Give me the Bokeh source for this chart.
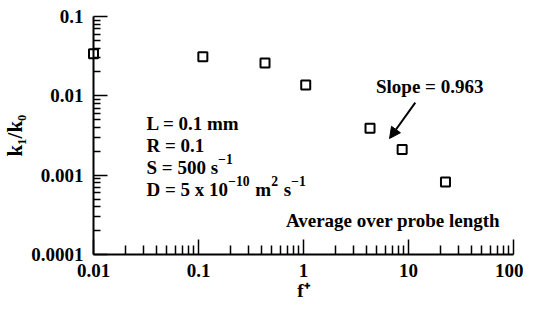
from bokeh.plotting import figure
from bokeh.models import FixedTicker, CustomJSTickFormatter, Arrow, NormalHead
from bokeh.core.properties import value
from bokeh.embed import file_html
from bokeh.resources import INLINE

# data
f_plus = [0.01, 0.11, 0.43, 1.05, 4.3, 8.7, 22.5]
k_ratio = [0.034, 0.031, 0.026, 0.0137, 0.0039, 0.0021, 0.00082]

x_ticks = [0.01, 0.1, 1, 10, 100]
x_tick_labels = ["0.01", "0.1", "1", "10", "100"]
y_ticks = [0.0001, 0.001, 0.01, 0.1]
y_tick_labels = ["0.0001", "0.001", "0.01", "0.1"]

# parameter lines: list of (text, is_superscript) pieces
param_lines = [
    [("L = 0.1 mm", False)],
    [("R = 0.1", False)],
    [("S = 500 s", False), ("\u22121", True)],
    [("D = 5 x 10", False), ("\u221210", True), (" m", False), ("2", True), (" s", False), ("\u22121", True)],
]
params_y = [0.0045, 0.0024, 0.00125, 0.00066]
params_x = 0.032

FONT = "Liberation Serif"
FSZ = 19
FS = "%dpx" % FSZ
SUP = 0.72

# Times-Bold (= Liberation Serif Bold) advance widths per 1000 em
W = {" ": 250, ".": 250, "=": 570, "x": 500, "m": 833, "s": 389, "S": 556, "D": 722,
     "L": 667, "R": 722, "\u2212": 570}
for d in "0123456789":
    W[d] = 500

def width(t, size):
    return sum(W.get(c, 500) for c in t) * size / 1000.0

def minors(lo_exp, hi_exp):
    out = []
    for e in range(lo_exp, hi_exp):
        for m in range(2, 10):
            out.append(m * 10.0 ** e)
    return out

p = figure(frame_width=420, frame_height=238, x_axis_type="log", y_axis_type="log",
           x_range=(0.01, 100), y_range=(0.0001, 0.1),
           output_backend="svg", toolbar_location=None,
           min_border_left=90, min_border_right=10, min_border_top=16, min_border_bottom=52)
p.outline_line_color = None
p.xgrid.visible = False
p.ygrid.visible = False
p.background_fill_color = "white"
p.border_fill_color = "white"

pts = p.scatter(f_plus, k_ratio, marker="square", size=9, fill_color=None,
                line_color="black", line_width=2, level="overlay")

def fmt(ticks, labels):
    mapping = "{" + ",".join('"%s":"%s"' % (repr(float(t)), l) for t, l in zip(ticks, labels)) + "}"
    return CustomJSTickFormatter(code="""
        const m = %s;
        for (const k of Object.keys(m)) { if (Math.abs(Math.log10(parseFloat(k)) - Math.log10(tick)) < 1e-6) return m[k]; }
        return "";
    """ % mapping)

xa = p.xaxis[0]
xa.ticker = FixedTicker(ticks=x_ticks, minor_ticks=minors(-2, 2))
xa.formatter = fmt(x_ticks, x_tick_labels)
ya = p.yaxis[0]
ya.ticker = FixedTicker(ticks=y_ticks, minor_ticks=minors(-4, -1))
ya.formatter = fmt(y_ticks, y_tick_labels)

for ax in (xa, ya):
    ax.axis_line_width = 2
    ax.axis_line_color = "black"
    ax.major_tick_out = 0
    ax.minor_tick_out = 0
    ax.major_tick_line_width = 1.5
    ax.minor_tick_line_width = 1.5
    ax.major_label_text_font = FONT
    ax.major_label_text_font_style = "bold"
    ax.major_label_text_font_size = FS
    ax.major_label_text_color = "black"
    ax.axis_label_text_font = FONT
    ax.axis_label_text_font_style = "bold"
    ax.axis_label_text_font_size = FS
    ax.axis_label_text_color = "black"

xa.major_tick_in = 15
xa.minor_tick_in = 9
ya.major_tick_in = 14
ya.minor_tick_in = 7
xa.major_label_standoff = 9
ya.major_label_standoff = 10
xa.axis_label = "f\u207a"
ya.axis_label = "k\u2081/k\u2080"
ya.axis_label_text_font_size = "21px"
xa.axis_label_standoff = 0
ya.axis_label_standoff = 1

for line, yv in zip(param_lines, params_y):
    off = 0.0
    for txt, sup in line:
        size = FSZ * SUP if sup else FSZ
        lead = len(txt) - len(txt.lstrip(" "))
        off += width(" " * lead, size)
        body = txt.lstrip(" ")
        p.text(x=[params_x], y=[yv], text=[body], x_offset=off, y_offset=(-8 if sup else 0),
               text_font=value(FONT), text_font_style="bold", text_font_size="%.1fpx" % size,
               text_baseline="middle", text_align="left", text_color="black")
        off += width(body, size) + (1 if sup else 0)

p.text(x=[4.9], y=[0.0133], text=["Slope = 0.963"],
       text_font=value(FONT), text_font_style="bold", text_font_size=FS,
       text_baseline="middle", text_align="left", text_color="black")
p.text(x=[0.68], y=[0.00027], text=["Average over probe length"],
       text_font=value(FONT), text_font_style="bold", text_font_size=FS,
       text_baseline="middle", text_align="left", text_color="black")

p.add_layout(Arrow(end=NormalHead(size=11, fill_color="black", line_color="black"),
                   x_start=11.6, y_start=0.0082, x_end=6.6, y_end=0.0029,
                   line_width=2, line_color="black"))

open("out.html", "w").write(file_html(p, INLINE))
